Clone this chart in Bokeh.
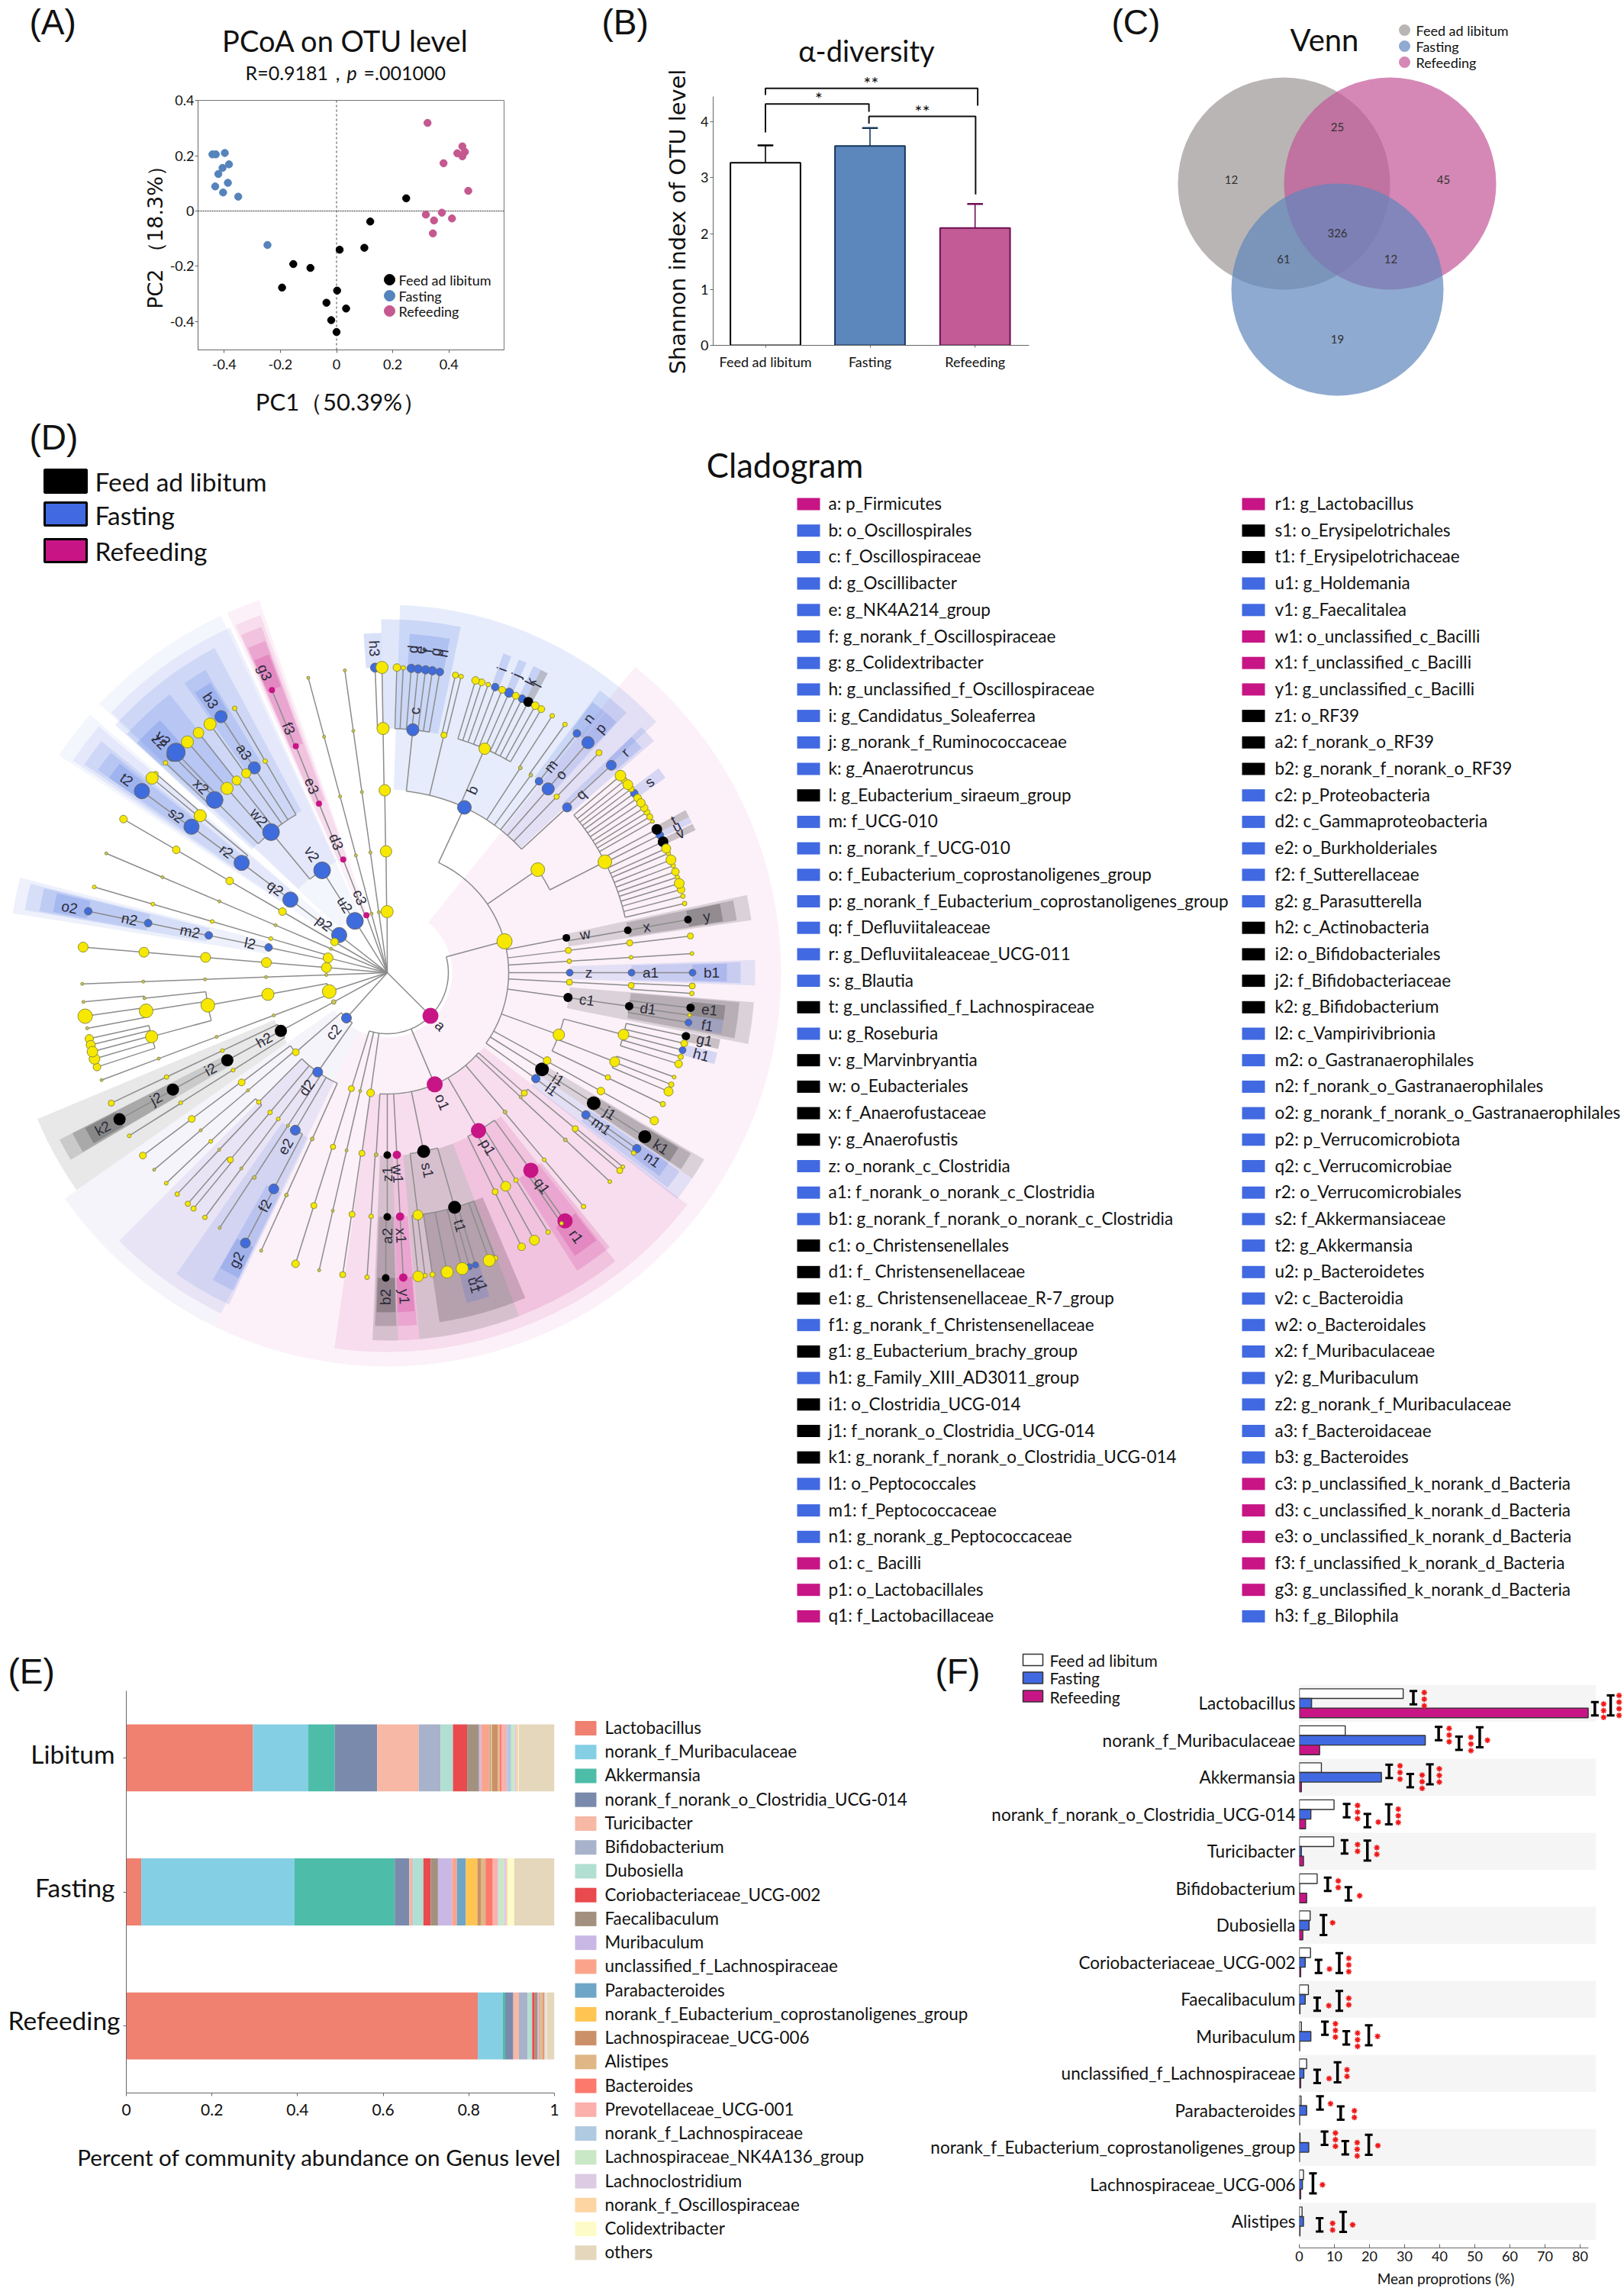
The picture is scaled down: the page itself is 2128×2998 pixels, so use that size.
import math
from bokeh.plotting import figure
from bokeh.layouts import column, row
from bokeh.models import Range1d, FixedTicker, ColumnDataSource
from bokeh.core.properties import value
from bokeh.embed import file_html
from bokeh.resources import INLINE

FONT = "Lato"

# ---------- (A) PCoA ----------
pcoa_black_x = [0.248, 0.12, 0.011, 0.099, -0.154, -0.093, -0.194, 0.002, -0.036, 0.034, -0.019, 0.0]
pcoa_black_y = [0.046, -0.038, -0.14, -0.133, -0.192, -0.206, -0.277, -0.288, -0.332, -0.353, -0.395, -0.438]
pcoa_blue_x = [-0.442, -0.43, -0.398, -0.383, -0.406, -0.421, -0.387, -0.432, -0.404, -0.35, -0.246]
pcoa_blue_y = [0.205, 0.205, 0.21, 0.169, 0.156, 0.134, 0.102, 0.089, 0.067, 0.052, -0.123]
pcoa_pink_x = [0.324, 0.448, 0.457, 0.43, 0.448, 0.381, 0.469, 0.375, 0.318, 0.411, 0.347, 0.343]
pcoa_pink_y = [0.319, 0.234, 0.214, 0.209, 0.198, 0.173, 0.073, -0.006, -0.013, -0.027, -0.034, -0.081]

# ---------- (B) alpha diversity ----------
shannon_names = ["Feed ad libitum", "Fasting", "Refeeding"]
shannon_mean = [3.27, 3.57, 2.10]
shannon_top = [3.58, 3.89, 2.53]

# ---------- (C) Venn ----------
venn_counts = ["12", "25", "45", "326", "61", "12", "19"]

# ---------- (D) legend ----------
clade_col1 = ["a: p_Firmicutes", "b: o_Oscillospirales", "c: f_Oscillospiraceae", "d: g_Oscillibacter",
    "e: g_NK4A214_group", "f: g_norank_f_Oscillospiraceae", "g: g_Colidextribacter",
    "h: g_unclassified_f_Oscillospiraceae", "i: g_Candidatus_Soleaferrea", "j: g_norank_f_Ruminococcaceae",
    "k: g_Anaerotruncus", "l: g_Eubacterium_siraeum_group", "m: f_UCG-010", "n: g_norank_f_UCG-010",
    "o: f_Eubacterium_coprostanoligenes_group", "p: g_norank_f_Eubacterium_coprostanoligenes_group",
    "q: f_Defluviitaleaceae", "r: g_Defluviitaleaceae_UCG-011", "s: g_Blautia",
    "t: g_unclassified_f_Lachnospiraceae", "u: g_Roseburia", "v: g_Marvinbryantia", "w: o_Eubacteriales",
    "x: f_Anaerofustaceae", "y: g_Anaerofustis", "z: o_norank_c_Clostridia", "a1: f_norank_o_norank_c_Clostridia",
    "b1: g_norank_f_norank_o_norank_c_Clostridia", "c1: o_Christensenellales", "d1: f_ Christensenellaceae",
    "e1: g_ Christensenellaceae_R-7_group", "f1: g_norank_f_Christensenellaceae", "g1: g_Eubacterium_brachy_group",
    "h1: g_Family_XIII_AD3011_group", "i1: o_Clostridia_UCG-014", "j1: f_norank_o_Clostridia_UCG-014",
    "k1: g_norank_f_norank_o_Clostridia_UCG-014", "l1: o_Peptococcales", "m1: f_Peptococcaceae",
    "n1: g_norank_g_Peptococcaceae", "o1: c_ Bacilli", "p1: o_Lactobacillales", "q1: f_Lactobacillaceae"]
clade_col1_keys = "mbbbbbbbbbbkbbbbbbbkbkkkkbbbkkkbkbkkkbbbmmm"
clade_col2 = ["r1: g_Lactobacillus", "s1: o_Erysipelotrichales", "t1: f_Erysipelotrichaceae", "u1: g_Holdemania",
    "v1: g_Faecalitalea", "w1: o_unclassified_c_Bacilli", "x1: f_unclassified_c_Bacilli",
    "y1: g_unclassified_c_Bacilli", "z1:  o_RF39", "a2: f_norank_o_RF39", "b2: g_norank_f_norank_o_RF39",
    "c2: p_Proteobacteria", "d2: c_Gammaproteobacteria", "e2: o_Burkholderiales", "f2:  f_Sutterellaceae",
    "g2: g_Parasutterella", "h2: c_Actinobacteria", "i2: o_Bifidobacteriales", "j2:  f_Bifidobacteriaceae",
    "k2: g_Bifidobacterium", "l2: c_Vampirivibrionia", "m2: o_Gastranaerophilales", "n2: f_norank_o_Gastranaerophilales",
    "o2: g_norank_f_norank_o_Gastranaerophilales", "p2: p_Verrucomicrobiota", "q2: c_Verrucomicrobiae",
    "r2: o_Verrucomicrobiales", "s2: f_Akkermansiaceae", "t2: g_Akkermansia", "u2: p_Bacteroidetes", "v2: c_Bacteroidia",
    "w2: o_Bacteroidales", "x2: f_Muribaculaceae", "y2: g_Muribaculum", "z2: g_norank_f_Muribaculaceae",
    "a3:  f_Bacteroidaceae", "b3: g_Bacteroides", "c3: p_unclassified_k_norank_d_Bacteria",
    "d3: c_unclassified_k_norank_d_Bacteria", "e3: o_unclassified_k_norank_d_Bacteria",
    "f3: f_unclassified_k_norank_d_Bacteria", "g3: g_unclassified_k_norank_d_Bacteria", "h3: f_g_Bilophila"]
clade_col2_keys = "mkkbbmmmkkkbbbbbkkkkbbbbbbbbbbbbbbbbbmmmmmb"[:43]

def N(theta, size, col, label="", *kids):
    return (theta, size, col, label, kids)

def chain(theta, size, col, depth):
    return N(theta, size, col, "") if depth == 1 else N(theta, size, col, "", chain(theta, size, col, depth - 1))

# tree: (angle clockwise from north, node radius, colour, label, children)
lachno_family = [N(49.8, 7, "y"), N(51, 4, "y"), N(52, 6.5, "y"), N(53, 4, "y"), N(54, 5, "b", "s"), N(55.1, 5, "y"),
    N(56.2, 5.5, "y"), N(57.3, 5, "y"), N(58.3, 4, "y"), N(59.3, 4, "y"), N(60.3, 2.5, "y"), N(62, 7, "k", "t"),
    N(63.2, 5, "b", "u"), N(64.6, 7, "k", "v"), N(66, 6, "y"), N(67, 3, "y"), N(68.3, 6.5, "y"), N(69.5, 3, "y"),
    N(70.7, 5, "y"), N(71.8, 3, "y"), N(73, 6.5, "y"), N(74.2, 5, "y"), N(75.5, 3, "y"), N(76.9, 3, "y")]
firmicutes = N(135, 10.5, "m", "a",
    N(75, 10, "y", "",
        N(25, 9, "b", "b",
            N(6, 8, "b", "c", N(1.8, 5, "y"), N(3, 3, "y"), N(4.5, 5.5, "b", "d"), N(5.8, 5.5, "b", "e"),
              N(7.2, 5.5, "b", "f"), N(8.5, 5.5, "b", "g"), N(9.9, 5, "b", "h")),
            N(13.4, 4, "y", "", N(12.9, 4, "y"), N(14, 3, "y")),
            N(23.5, 7.5, "y", "", N(16.8, 5, "y"), N(18, 4.5, "y"), N(19.3, 3, "y"), N(20.7, 5, "b", "i"), N(22.1, 4.5, "y"),
              N(23.5, 6, "b", "j"), N(24.9, 4.5, "y"), N(26.2, 5, "b", "k"), N(27.5, 6.5, "k", "l"), N(29, 5, "y"), N(30.3, 4.5, "y")),
            N(33, 2.5, "g", "", N(32.7, 3, "y")),
            N(36, 2.5, "g", "", N(35.6, 3, "y")),
            N(38.4, 5, "b", "m", N(38.4, 5, "b", "n")),
            N(41.2, 8, "b", "o", N(41.1, 8, "b", "p")),
            N(43.9, 3.5, "y", "", N(43.9, 4, "y")),
            N(47.4, 6, "b", "q", N(47.2, 6.5, "b", "r"))),
        N(55.6, 9, "y", "", N(63, 9, "y", "", *lachno_family)),
        N(79, 5, "k", "w", N(80, 5, "k", "x", N(80, 5, "k", "y"))),
        N(83, 4, "y", "", N(83, 4, "y", "", N(83.1, 4, "y"))),
        N(86.4, 3, "y", "", N(86.4, 2.5, "y", "", N(86.4, 2.5, "y"))),
        N(90, 4.5, "b", "z", N(90, 4.5, "b", "a1", N(90, 4.5, "b", "b1"))),
        N(93, 4, "y", "", N(93, 4, "y", "", N(92.5, 4, "y"), N(93.9, 3, "y"))),
        N(97.8, 6, "k", "c1", N(97.9, 5.5, "k", "d1", N(96.6, 5.5, "k", "e1"), N(98, 2.5, "y"), N(99.4, 4.5, "b", "f1"))),
        N(109.9, 7.5, "y", "",
            N(104.7, 7, "y", "", N(102, 5.5, "k", "g1"), N(103.4, 4.5, "y"), N(104.7, 4.5, "b", "h1"), N(106, 3.5, "y"), N(107.4, 5, "y")),
            N(111.4, 6.5, "y", "", N(110, 2.5, "y"), N(111.5, 3.5, "y"), N(112.9, 6, "y")),
            N(115.4, 3.5, "y", "", N(115.5, 3.5, "y"))),
        N(118.8, 5, "y", "", N(119, 5, "y", "", N(119, 5.5, "y"))),
        N(122, 9, "k", "i1", N(122.3, 9, "k", "j1", N(122.5, 8.5, "k", "k1"))),
        N(125.5, 5.5, "b", "l1", N(125.6, 5.5, "b", "m1", N(125.2, 5.5, "b", "n1"), N(126.2, 3, "y")))),
    N(157, 10.5, "m", "o1",
        N(131.3, 4, "y", "", N(129.7, 4, "y", "", N(130.4, 4, "y"), N(129.5, 2.5, "y"))),
        N(133, 2, "g", "", N(133.2, 2.5, "g", "", N(133.2, 2.5, "y"))),
        N(139.8, 2.5, "g", "", N(140, 2.5, "y", "", N(140, 3, "y"))),
        N(150, 10, "m", "p1",
            N(144, 10, "m", "q1", N(144.4, 10, "m", "r1"), N(145.2, 2.5, "y")),
            N(148.2, 3, "y", "", N(148.2, 3, "y")),
            N(151, 6.5, "y", "", N(151.2, 6.5, "y")),
            N(153.8, 4, "y", "", N(153.9, 5, "y"))),
        N(168.5, 8.5, "k", "s1",
            N(164, 8.5, "k", "t1", N(159.3, 3.5, "y"), N(160.5, 8, "y"), N(163.2, 4, "b", "v1"), N(164.4, 4, "b", "u1"),
              N(165.8, 8, "y"), N(168.7, 8, "y"), N(171.5, 3.5, "y"), N(172.9, 3, "y")),
            N(172.8, 6.5, "y", "", N(174.2, 7, "y"))),
        N(177, 5.5, "m", "w1", N(177, 5.5, "m", "x1", N(177, 5.5, "m", "y1"))),
        N(180, 5, "k", "z1", N(180, 5, "k", "a2", N(180.3, 5, "k", "b2"))),
        N(183.5, 2.5, "g", "", N(183.8, 3, "y", "", N(183.8, 3, "y")))),
    N(187.9, 5, "y", "", N(188, 4, "y", "", N(188.3, 4, "y", "", N(188.4, 4, "y")))),
    chain(192.9, 2, "g", 4),
    N(197.2, 4, "y", "", N(197.3, 3.5, "y", "", N(197.5, 4, "y", "", N(197.5, 5, "y")))))
proteobacteria = N(222, 6.5, "b", "c2",
    N(215, 6.5, "b", "d2",
        N(204.3, 2.5, "g", "", N(204.4, 2.5, "g", "", N(204.4, 2, "g"))),
        N(210.3, 6.5, "b", "e2", N(207.7, 6.5, "b", "f2", N(207.7, 6.5, "b", "g2"))),
        N(213, 2, "g", "", N(213, 2.5, "g", "", N(213.3, 2, "g"))),
        N(216.7, 2.5, "y", "", N(216.7, 2, "g", "", N(216.7, 3, "y"))),
        N(220, 3, "y", "", N(220, 4, "y", "", N(219.4, 3.5, "y"), N(220.8, 3.5, "y"))),
        N(224.8, 3, "y", "", N(223.5, 2, "g", "", N(223.5, 3, "y")), N(226.3, 2.5, "y", "", N(226.4, 2.5, "y")))),
    N(229, 4.5, "y", "",
        N(229.8, 2, "g", "", N(229.8, 2, "g", "", N(229.8, 2, "g"))),
        N(233, 4.5, "y", "", N(233.2, 4.5, "y", "", N(233.2, 4.5, "y")))))
actinobacteria = N(241.3, 3, "g", "",
    N(241.3, 8, "k", "h2",
        N(237.7, 2.5, "y", "", N(237.8, 2.5, "y", "", N(237.7, 2.5, "y"))),
        N(241.3, 8, "k", "i2", N(241.4, 8, "k", "j2", N(241.3, 8, "k", "k2"))),
        N(244.7, 2.5, "y", "", N(244.7, 3, "y", "", N(244.7, 4, "y")))))
yellow_big = N(252, 9, "y", "",
    chain(249.4, 2, "g", 4),
    N(259.7, 8, "y", "", N(259.7, 9, "y", "",
        N(254.8, 8, "y", "", N(252, 5, "y"), N(253.6, 7, "y"), N(255, 7, "y"), N(256.3, 6, "y"), N(257.5, 5.5, "y")),
        N(261, 9, "y", "", N(259.5, 2, "g"), N(261.8, 9.5, "y")),
        N(264, 2, "g", "", N(264.5, 2, "g")))))
phylum_a = chain(267.9, 2, "g", 5)
phylum_b = chain(274.8, 6.5, "y", 5)
cyanobacteria = N(284, 6.5, "y", "",
    N(282, 5, "b", "l2", N(281.8, 5, "b", "m2", N(281.7, 5, "b", "n2", N(281.6, 5, "b", "o2")))),
    chain(286.3, 2.5, "y", 4))
phylum_c = chain(293, 2, "g", 5)
phylum_d = chain(300.2, 5, "y", 5)
verruco = N(308, 10, "b", "p2", N(307, 10, "b", "q2", N(307, 10, "b", "r2",
    N(306.7, 10, "b", "s2", N(306.5, 10, "b", "t2")),
    N(310, 8, "y", "", N(309.6, 8, "y"), N(310.7, 3, "y")))))
bacteroidetes = N(328, 11, "b", "u2", N(327.5, 11, "b", "v2", N(320.4, 11, "b", "w2",
    N(315, 11, "b", "x2", N(313.4, 3, "y"), N(315.4, 8, "b", "z2"), N(316.2, 12, "b", "y2")),
    N(319, 8, "y", "", N(319.1, 8, "y")),
    N(321.9, 6, "y", "", N(321.8, 7, "y")),
    N(324.7, 6, "y", "", N(324.5, 8, "y")),
    N(327, 8, "b", "a3", N(327, 8, "b", "b3")),
    N(330, 3, "y", "", N(330, 3, "y")))))
unclassified = N(340, 4, "m", "c3", N(338.7, 4, "m", "d3", N(338, 4, "m", "e3", N(338, 4, "m", "f3", N(337.8, 4, "m", "g3")))))
phylum_e = chain(345, 2, "g", 5)
phylum_f = chain(352, 2, "g", 5)
desulfo = N(359.8, 8, "y", "", N(359.4, 7.5, "y", "", N(359.2, 7.5, "y", "", N(359, 8, "y", "",
    N(357.7, 6, "b", "h3"), N(359, 8, "y")))))
clade_tree = [firmicutes, proteobacteria, actinobacteria, yellow_big, phylum_a, phylum_b, cyanobacteria,
              phylum_c, phylum_d, verruco, bacteroidetes, unclassified, phylum_e, phylum_f, desulfo]

# shaded clades: level (1 phylum .. 5 genus), start and end angle, colour
clade_wedges = [
    (1, 39, 206, "m"), (1, 206, 235, "p"), (1, 303.5, 311, "b"), (1, 313, 335, "b"), (1, 336, 341, "m"),
    (2, 127.7, 188, "m"), (2, 206, 225, "p"), (2, 235, 247.3, "k"), (2, 279, 284.5, "b"), (2, 304, 310.5, "b"),
    (2, 313.3, 335.5, "b"), (2, 336.4, 340.5, "m"),
    (3, 2, 47, "b"), (3, 77.8, 81.8, "k"), (3, 88, 92, "b"), (3, 94.6, 101.2, "k"), (3, 120.5, 124, "k"), (3, 124, 128, "b"),
    (3, 141.7, 159, "m"), (3, 159, 175, "k"), (3, 175, 178.3, "m"), (3, 178.3, 182.3, "k"),
    (3, 205.5, 215, "b"), (3, 239.4, 243, "k"), (3, 279.8, 284, "b"), (3, 304.5, 309, "b"), (3, 312.3, 332, "b"), (3, 336.6, 340, "m"),
    (4, -1, 12, "b"), (4, 37, 42.6, "b"), (4, 46, 49, "b"), (4, 78.2, 81.5, "k"), (4, 88.3, 91.7, "b"), (4, 94.8, 100.7, "k"),
    (4, 120.8, 123.8, "k"), (4, 124.2, 127.5, "b"), (4, 141, 147.5, "m"), (4, 157, 171.5, "k"), (4, 175.2, 178.3, "m"), (4, 178.5, 182, "k"),
    (4, 205.8, 209.6, "b"), (4, 239.5, 243, "k"), (4, 280, 283.8, "b"), (4, 305, 308.5, "b"), (4, 312.5, 322, "b"), (4, 325, 329, "b"), (4, 336.8, 339.8, "m"),
    (5, 3.8, 10.6, "b"), (5, 20, 21.4, "b"), (5, 22.8, 24.2, "b"), (5, 25.5, 26.9, "b"), (5, 26.9, 28.2, "k"), (5, 37.2, 39.8, "b"), (5, 39.9, 42.4, "b"),
    (5, 46, 48.5, "b"), (5, 53, 55, "b"), (5, 61.4, 62.7, "k"), (5, 62.7, 63.8, "b"), (5, 64, 65.2, "k"), (5, 78.3, 81.3, "k"), (5, 88.5, 91.5, "b"),
    (5, 95.5, 98, "k"), (5, 98, 100.4, "b"), (5, 101.3, 103, "k"), (5, 103.6, 105.6, "b"), (5, 121, 123.8, "k"), (5, 124, 126.8, "b"),
    (5, 142, 146.5, "m"), (5, 162.5, 166.5, "b"), (5, 175.4, 178.3, "m"), (5, 178.6, 181.8, "k"), (5, 206, 209.5, "b"), (5, 239.8, 242.8, "k"),
    (5, 280.3, 283.5, "b"), (5, 305, 308, "b"), (5, 312.5, 318, "b"), (5, 325.5, 328.6, "b"), (5, 336.9, 339.6, "m"), (5, 356, 359, "b")]

# ---------- (E) stacked bars ----------
genus_names = ["Lactobacillus", "norank_f_Muribaculaceae", "Akkermansia", "norank_f_norank_o_Clostridia_UCG-014",
    "Turicibacter", "Bifidobacterium", "Dubosiella", "Coriobacteriaceae_UCG-002", "Faecalibaculum", "Muribaculum",
    "unclassified_f_Lachnospiraceae", "Parabacteroides", "norank_f_Eubacterium_coprostanoligenes_group",
    "Lachnospiraceae_UCG-006", "Alistipes", "Bacteroides", "Prevotellaceae_UCG-001", "norank_f_Lachnospiraceae",
    "Lachnospiraceae_NK4A136_group", "Lachnoclostridium", "norank_f_Oscillospiraceae", "Colidextribacter", "others"]
genus_colors = ["#f08070", "#84cfe4", "#4dbda9", "#7a8aac", "#f7b8a5", "#a8b2ca", "#b1dfd1", "#e84a4e", "#a39180",
    "#c9b8e5", "#fba48c", "#6fa5c6", "#fec552", "#cc9068", "#dfb685", "#fc7a6c", "#fbb0ac", "#afcae1", "#c9e8c6",
    "#dccbe3", "#fdd5a3", "#fdfcc8", "#e4d7bb"]
libitum = [.296, .129, .062, .099, .097, .051, .029, .033, .028, .005, .020, .002, .003, .014, .004, .005, .012, .010, .008, .005, .004, .001, .083]
fasting = [.035, .358, .234, .034, .007, .002, .024, .017, .017, .033, .011, .021, .027, .008, .011, .017, .012, .002, .012, .006, .003, .015, .094]
refeeding = [.821, .058, .006, .019, .013, .020, .011, .006, .007, .002, .003, .002, .002, .002, .002, .002, .001, .001, .001, .001, .001, .001, .018]
stack_groups = ["Refeeding", "Fasting", "Libitum"]

# ---------- (F) mean proportions ----------
f_names = ["Lactobacillus", "norank_f_Muribaculaceae", "Akkermansia", "norank_f_norank_o_Clostridia_UCG-014", "Turicibacter",
    "Bifidobacterium", "Dubosiella", "Coriobacteriaceae_UCG-002", "Faecalibaculum", "Muribaculum",
    "unclassified_f_Lachnospiraceae", "Parabacteroides", "norank_f_Eubacterium_coprostanoligenes_group",
    "Lachnospiraceae_UCG-006", "Alistipes"]
f_feed = [29.6, 13.1, 6.3, 9.9, 9.8, 5.1, 3.1, 3.2, 2.6, .6, 2.1, .5, .2, 1.2, .8]
f_fast = [3.5, 35.9, 23.4, 3.3, .6, .1, 2.8, 1.7, 1.7, 3.3, 1.3, 2.1, 2.7, .9, 1.2]
f_refeed = [82.3, 5.8, .6, 1.8, 1.2, 2.1, 1.0, .4, .2, .1, .4, .1, .05, .4, .2]
# row, bar x (%), row offset, half height (rows), star x (%), star offset, number of stars
f_marks = [
    (0, 32.5, -.15, .18, 35.6, -.11, 3), (0, 84.2, .15, .18, 86.7, .20, 3), (0, 88.7, .06, .27, 91.1, .06, 4),
    (1, 39.7, -.18, .18, 42.7, -.14, 3), (1, 45.5, .08, .18, 48.9, .10, 3), (1, 51.4, -.08, .27, 53.6, 0, 1),
    (2, 25.6, -.16, .18, 28.7, -.13, 3), (2, 31.6, .09, .18, 35.0, .12, 3), (2, 37.2, -.08, .27, 39.9, -.05, 3),
    (3, 13.5, -.10, .18, 16.6, -.06, 3), (3, 19.4, .17, .18, 22.5, .21, 1), (3, 25.5, 0, .27, 28.2, .04, 3),
    (4, 12.9, -.12, .18, 16.6, -.09, 2), (4, 19.4, -.02, .27, 22.1, -.01, 2),
    (5, 8.1, -.11, .18, 11.1, -.11, 2), (5, 14.0, .15, .18, 17.2, .20, 1),
    (6, 6.9, -.01, .27, 9.5, -.07, 1),
    (7, 5.5, .11, .18, 8.6, .18, 1), (7, 11.4, .02, .27, 14.1, .07, 3),
    (8, 5.1, .13, .18, 8.4, .17, 1), (8, 11.4, .04, .27, 14.1, .06, 2),
    (9, 7.3, -.22, .18, 10.3, -.16, 3), (9, 13.4, .04, .18, 16.6, .09, 3), (9, 19.8, -.03, .27, 22.3, 0, 1),
    (10, 5.1, .08, .18, 8.5, .14, 1), (10, 10.9, -.03, .27, 13.6, -.01, 2),
    (11, 5.9, -.20, .18, 8.9, -.18, 1), (11, 11.8, .07, .18, 15.7, .10, 2),
    (12, 7.2, -.25, .18, 10.3, -.21, 3), (12, 13.1, .01, .18, 16.5, .05, 3), (12, 19.8, -.07, .27, 22.4, -.05, 1),
    (13, 3.9, -.03, .27, 6.6, .01, 1),
    (14, 5.8, .09, .18, 9.5, .14, 2), (14, 12.5, .01, .27, 15.2, .09, 1)]

# ---------------------------------------------------------------
PAGE_W, PAGE_H = 2128, 2998
TOP_H = 545   # first row ends here, the cladogram row starts
MID_END = 2140

def base(w, h, xr, yr, left=0, right=0, top=0, bottom=0, axes=True):
    kw = {} if axes else {"x_axis_location": None, "y_axis_location": None}
    p = figure(width=w, height=h, x_range=Range1d(*xr), y_range=Range1d(*yr), output_backend="svg", toolbar_location=None,
               min_border_left=left, min_border_right=right, min_border_top=top, min_border_bottom=bottom, frame_align=False, **kw)
    p.grid.visible = False
    p.outline_line_color = None
    p.background_fill_color = None
    p.border_fill_color = None
    return p

# page-wide sheet behind the panels: titles, captions and legend keys that lie outside the panels' frames
T = base(PAGE_W, PAGE_H, (0, PAGE_W), (0, PAGE_H), axes=False)
def lab(px, py, text, size, font=FONT, color="#111111", align="left", baseline="middle", angle=0, style="normal"):
    T.text([px], [PAGE_H - py], text=[text], text_font=value(font), text_font_size=f"{size}px", text_color=color,
           text_align=align, text_baseline=baseline, angle=math.radians(angle), text_font_style=style)

def style_axis(ax, size, color="#666666"):
    ax.major_label_text_font = FONT
    ax.major_label_text_font_size = f"{size}px"
    ax.major_label_text_color = "#111111"
    ax.axis_line_color = color
    ax.major_tick_line_color = color
    ax.minor_tick_line_color = None
    ax.major_tick_out = 4
    ax.major_tick_in = 0
    ax.major_label_standoff = 4

PANEL_FONT = 46
# ---------- A ----------
ax_px = lambda v: (v - 440.5) / 368
ay_px = lambda v: (276 - v) / 362
A = base(780, TOP_H, (ax_px(259), ax_px(660)), (ay_px(458), ay_px(131)), left=259, right=120, top=131, bottom=TOP_H - 458)
A.outline_line_color = "#777777"
xt = [-0.4, -0.2, 0, 0.2, 0.4, 0.6]
yt = [-0.4, -0.2, 0, 0.2, 0.4]
A.xaxis.ticker = FixedTicker(ticks=xt)
A.yaxis.ticker = FixedTicker(ticks=yt)
A.xaxis.major_label_overrides = {v: ("0" if v == 0 else str(v)) for v in xt}
A.yaxis.major_label_overrides = {v: ("0" if v == 0 else str(v)) for v in yt}
style_axis(A.xaxis[0], 18); style_axis(A.yaxis[0], 18)
A.xaxis.major_label_standoff = 8
A.yaxis.major_label_standoff = 1
A.line([0, 0], [-0.503, 0.4], line_color="#666666", line_dash="3 3", line_width=1.2)
A.line([-0.493, 0.6], [0, 0], line_color="#666666", line_dash="2 1", line_width=1.6)
for xs, ys, c in [(pcoa_black_x, pcoa_black_y, "black"), (pcoa_blue_x, pcoa_blue_y, "#5583bb"), (pcoa_pink_x, pcoa_pink_y, "#c4588f")]:
    A.scatter(xs, ys, size=9.5, color=c)
for py, c, t in [(366, "black", "Feed ad libitum"), (387, "#5583bb", "Fasting"), (407, "#c4588f", "Refeeding")]:
    A.scatter([ax_px(510)], [ay_px(py)], size=14, color=c)
    lab(522, py, t, 18)
lab(38, 28, "(A)", PANEL_FONT, font="Liberation Sans")
lab(452, 52, "PCoA on OTU level", 38, align="center")
lab(321, 94, "R=0.9181，", 25)
lab(454, 94, "p", 25, style="italic")
lab(476, 94, "=.001000", 25)
lab(446, 525, "PC1（50.39%）", 31, align="center")
lab(203, 304, "PC2 （18.3%）", 27, font="DejaVu Sans", align="center", angle=90)

# ---------- B ----------
bx_px = lambda v: (v - 934) / 137
by_px = lambda v: (452 - v) / 73.2
B = base(620, TOP_H, (0, bx_px(1348)), (0, by_px(86)), left=154, right=52, top=86, bottom=TOP_H - 452)
bar_x = [0.5, 1.5, 2.505]
bar_fill = ["white", "#5b87bd", "#c25b96"]
bar_edge = ["black", "#17375e", "#6e0f52"]
B.vbar(x=bar_x, top=shannon_mean, width=0.67, fill_color=bar_fill, line_color=bar_edge, line_width=2)
B.segment(bar_x, shannon_mean, bar_x, shannon_top, line_color=bar_edge, line_width=1.6)
B.segment([v - 0.075 for v in bar_x], shannon_top, [v + 0.075 for v in bar_x], shannon_top, line_color=bar_edge, line_width=2.4)
B.xaxis.ticker = FixedTicker(ticks=bar_x)
B.xaxis.major_label_overrides = dict(zip(bar_x, shannon_names))
B.yaxis.ticker = FixedTicker(ticks=[0, 1, 2, 3, 4])
B.yaxis.bounds = (0, 4.46)
style_axis(B.xaxis[0], 18); style_axis(B.yaxis[0], 18)
B.xaxis.major_label_standoff = 7
B.yaxis.major_label_standoff = 2
B.xaxis.major_tick_out = 3
bracket_xs = [[0.5, 0.5, 1.49, 1.49], [0.5, 0.5, 2.53, 2.53], [1.49, 1.49, 2.51, 2.51]]
bracket_ys = [[3.81, 4.32, 4.32, 4.18], [4.48, 4.6, 4.6, 4.29], [3.97, 4.1, 4.1, 2.7]]
B.multi_line(bracket_xs, bracket_ys, line_color="#111111", line_width=2)
B.text([1.01, 1.51, 2.0], [4.23, 4.50, 4.0], text=["*", "**", "**"], text_align="center", text_baseline="bottom",
       text_font=value(FONT), text_font_size="24px", text_color="#111111")
lab(788, 28, "(B)", PANEL_FONT, font="Liberation Sans")
lab(1135, 65, "α-diversity", 38, align="center")
lab(887, 290, "Shannon index of OTU level", 28.8, font="DejaVu Sans", align="center", angle=90)

# ---------- C ----------
vx = lambda v: v - 1752
vy = lambda v: 379 - v
C = base(728, TOP_H, (vx(1400), vx(2128)), (vy(TOP_H), vy(0)), axes=False)
C.circle([vx(1682)], [vy(240)], radius=139, fill_color="#9b9594", fill_alpha=0.7, line_color=None)
C.circle([vx(1821)], [vy(240)], radius=139, fill_color="#c35697", fill_alpha=0.7, line_color=None)
C.circle([vx(1752)], [vy(379)], radius=139, fill_color="#6086bc", fill_alpha=0.7, line_color=None)
venn_x = [vx(v) for v in (1613, 1752, 1891, 1752, 1681.5, 1822, 1752)]
venn_y = [vy(v) for v in (235, 166, 235, 304.5, 339, 339, 444)]
C.text(venn_x, venn_y, text=venn_counts, text_align="center", text_baseline="middle", text_font=value(FONT),
       text_font_size="15px", text_color="#333333")
C.circle([vx(1840)] * 3, [vy(39), vy(60), vy(81)], radius=7.5, fill_color=["#b9b5b4", "#90aad0", "#d588b6"], line_color=None)
for py, t in [(39, "Feed ad libitum"), (60, "Fasting"), (81, "Refeeding")]:
    lab(1855, py, t, 18)
lab(1456, 28, "(C)", PANEL_FONT, font="Liberation Sans")
lab(1735, 51, "Venn", 40, align="center")

# ---------- D ----------
cx, cy = 507, 1274
dx = lambda v: v - cx
dy = lambda v: cy - v
D = base(PAGE_W, MID_END - TOP_H, (dx(0), dx(PAGE_W)), (dy(MID_END), dy(TOP_H)), axes=False)
RING = [0, 80, 159, 239, 320, 400]
OUTER = {1: 516, 2: 497, 3: 482, 4: 463, 5: 445}
INNER = {1: 85, 2: 160, 3: 240, 4: 320, 5: 400}
ALPHA = {1: 0.06, 2: 0.09, 3: 0.13, 4: 0.16, 5: 0.20}
WCOL = {"m": "#c71585", "b": "#4169e1", "k": "#000000", "p": "#6a45c0"}
for lvl in range(1, 6):
    rows = [w for w in clade_wedges if w[0] == lvl]
    D.annular_wedge(x=[0] * len(rows), y=[0] * len(rows), inner_radius=[INNER[lvl]] * len(rows),
                    outer_radius=[OUTER[lvl]] * len(rows),
                    start_angle=[math.radians(90 - w[2]) for w in rows], end_angle=[math.radians(90 - w[1]) for w in rows],
                    fill_color=[WCOL[w[3]] for w in rows], fill_alpha=ALPHA[lvl], line_color=None)

seg_x, seg_y, nodes, texts = [], [], [], []
def pol(r, t):
    a = math.radians(t)
    return r * math.sin(a), r * math.cos(a)
def walk(node, lvl):
    t, size, col, label, kids = node
    x0, y0 = pol(RING[lvl - 1], t); x1, y1 = pol(RING[lvl], t)
    seg_x.append([x0, x1]); seg_y.append([y0, y1])
    if kids:
        angs = [k[0] for k in kids] + [t]
        lo, hi = min(angs), max(angs)
        n = max(2, int((hi - lo) / 1.5) + 2)
        pts = [pol(RING[lvl], lo + (hi - lo) * i / (n - 1)) for i in range(n)]
        seg_x.append([q[0] for q in pts]); seg_y.append([q[1] for q in pts])
    nodes.append((x1, y1, size, col, lvl))
    if label:
        off = 18 if lvl == 1 and label == "a" else 25
        tx, ty = pol(RING[lvl] + off, t)
        rot = 90 - t if (t % 360) < 180 else 270 - t
        texts.append((tx, ty, label, math.radians(rot)))
    for k in kids:
        walk(k, lvl + 1)
for ph in clade_tree:
    walk(ph, 1)
D.multi_line(seg_x, seg_y, line_color="#8c8c8c", line_width=1.5)
NCOL = {"y": "#f6e800", "b": "#3f6cdc", "m": "#c71585", "k": "#000000", "g": "#c9c56a"}
nodes.sort(key=lambda q: (q[3] == "y", q[2]), reverse=False)
D.circle([q[0] for q in nodes], [q[1] for q in nodes], radius=[q[2] for q in nodes],
         fill_color=[NCOL[q[3]] for q in nodes], line_color=["#8f8f3a" if q[3] in "yg" else "#666666" if q[3] == "b" else None for q in nodes], line_width=1)
D.text([q[0] for q in texts], [q[1] for q in texts], text=[q[2] for q in texts], angle=[q[3] for q in texts],
       text_align="center", text_baseline="middle", text_font=value("Liberation Sans"), text_font_size="19px", text_color="#2b2b3a")

LEG = {"m": "#c71585", "b": "#4169e1", "k": "#000000"}
row_y = [660 + 34.7 * i for i in range(43)]
D.rect([dx(1059)] * 43, [dy(v) for v in row_y], width=30, height=16, fill_color=[LEG[c] for c in clade_col1_keys], line_color=None)
D.rect([dx(1642)] * 43, [dy(v) for v in row_y], width=30, height=16, fill_color=[LEG[c] for c in clade_col2_keys], line_color=None)
D.text([dx(1085)] * 43, [dy(v - 1) for v in row_y], text=clade_col1, text_baseline="middle", text_font=value(FONT), text_font_size="22.5px", text_color="#111111")
D.text([dx(1670)] * 43, [dy(v - 1) for v in row_y], text=clade_col2, text_baseline="middle", text_font=value(FONT), text_font_size="22.5px", text_color="#111111")
D.text([dx(1028)], [dy(608)], text=["Cladogram"], text_align="center", text_baseline="middle", text_font=value(FONT), text_font_size="43.5px", text_color="#111111")
D.text([dx(38)], [dy(572)], text=["(D)"], text_baseline="middle", text_font=value("Liberation Sans"), text_font_size=f"{PANEL_FONT}px", text_color="#111111")
D.rect([dx(85.5)] * 3, [dy(630), dy(673), dy(721)], width=55, height=30, fill_color=["#000000", "#4169e1", "#c71585"], line_color="#000000", line_width=3)
D.text([dx(124)] * 3, [dy(630), dy(674), dy(721)], text=["Feed ad libitum", "Fasting", "Refeeding"], text_baseline="middle",
       text_font=value(FONT), text_font_size="33.5px", text_color="#111111")

# ---------- E ----------
E = base(1215, PAGE_H - MID_END, (0, 1), (-0.5, 2.5), left=165, right=489, top=75, bottom=PAGE_H - 2742)
src = {"y": [0, 1, 2]}
stack_keys = [f"s{i}" for i in range(len(genus_names))]
for i, k in enumerate(stack_keys):
    src[k] = [refeeding[i], fasting[i], libitum[i]]
E.hbar_stack(stack_keys, y="y", height=0.5, color=genus_colors, source=ColumnDataSource(src), line_color=None)
E.xaxis.ticker = FixedTicker(ticks=[0, 0.2, 0.4, 0.6, 0.8, 1])
E.xaxis.major_label_overrides = {0: "0", 0.2: "0.2", 0.4: "0.4", 0.6: "0.6", 0.8: "0.8", 1: "1"}
E.yaxis.ticker = FixedTicker(ticks=[0, 1, 2])
E.yaxis.major_label_overrides = {0: "", 1: "", 2: ""}
style_axis(E.xaxis[0], 21); style_axis(E.yaxis[0], 33)
E.xaxis.major_label_standoff = 10
for t, x, y in zip(stack_groups, [157, 150, 150], [2646, 2472, 2297]):
    lab(x, y, t, 33.5, align="right")
leg_y = [2263 + 31.24 * i for i in range(len(genus_names))]
T.rect([767] * len(leg_y), [PAGE_H - (v + 1) for v in leg_y], width=28, height=19, fill_color=genus_colors, line_color=None)
for v, t in zip(leg_y, genus_names):
    lab(792, v, t, 22.4)
lab(10, 2189, "(E)", PANEL_FONT, font="Liberation Sans")
lab(418, 2826, "Percent of community abundance on Genus level", 29.6, align="center")

# ---------- F ----------
fx_px = lambda v: (v - 1702) / 4.6
fy_px = lambda v: (v - 2231.3) / 48.5
F = base(913, PAGE_H - MID_END, (0, fx_px(2128)), (fy_px(2945), fy_px(2207)), left=487, right=0, top=67, bottom=PAGE_H - 2945)
rows_idx = list(range(len(f_names)))
F.hbar(y=rows_idx[::2], left=0, right=84.5, height=1, fill_color="#f5f5f5", line_color=None)
F.hbar(y=[r - 0.26 for r in rows_idx], left=0, right=f_feed, height=0.26, fill_color="white", line_color="#333333", line_width=1.4)
F.hbar(y=rows_idx, left=0, right=f_fast, height=0.26, fill_color="#4169e1", line_color="#333333", line_width=1.4)
F.hbar(y=[r + 0.26 for r in rows_idx], left=0, right=f_refeed, height=0.26, fill_color="#c71585", line_color="#333333", line_width=1.4)
vx0 = [m[1] for m in f_marks]
vyt = [m[0] + m[2] - m[3] for m in f_marks]
vyb = [m[0] + m[2] + m[3] for m in f_marks]
F.segment(vx0, vyt, vx0, vyb, line_color="black", line_width=3.5)
F.segment([v - 1.1 for v in vx0], vyt, [v + 1.1 for v in vx0], vyt, line_color="black", line_width=3)
F.segment([v - 1.1 for v in vx0], vyb, [v + 1.1 for v in vx0], vyb, line_color="black", line_width=3)
sx, sy = [], []
for m in f_marks:
    for j in range(m[6]):
        sx.append(m[4])
        sy.append(m[0] + m[5] + (j - (m[6] - 1) / 2) * 0.18)
F.scatter(sx, sy, marker="asterisk", size=7.5, line_color="#f01818", line_width=1.6)
F.xaxis.ticker = FixedTicker(ticks=list(range(0, 90, 10)))
F.xaxis.bounds = (0, 82.3)
F.yaxis.ticker = FixedTicker(ticks=rows_idx)
F.yaxis.major_label_overrides = dict(zip(rows_idx, f_names))
style_axis(F.xaxis[0], 18); style_axis(F.yaxis[0], 22.5)
F.yaxis.axis_line_color = None
F.yaxis.major_tick_line_color = None
F.yaxis.major_tick_out = 0
F.yaxis.major_label_standoff = 5
F.xaxis.major_tick_in = 5
F.xaxis.major_tick_out = 0
T.rect([1353] * 3, [PAGE_H - 2174.5, PAGE_H - 2198, PAGE_H - 2222], width=26, height=15,
       fill_color=["white", "#4169e1", "#c71585"], line_color="#333333", line_width=1.5)
for py, t in [(2175, "Feed ad libitum"), (2198, "Fasting"), (2223, "Refeeding")]:
    lab(1375, py, t, 21)
lab(1225, 2189, "(F)", PANEL_FONT, font="Liberation Sans")
lab(1894, 2985, "Mean proprotions (%)", 19, align="center")

panels = column(row(A, B, C, spacing=0), D, row(E, F, spacing=0), spacing=0)
panels.margin = (-PAGE_H, 0, 0, 0)
page = column(T, panels, spacing=0)
open("out.html", "w").write(file_html(page, INLINE))
